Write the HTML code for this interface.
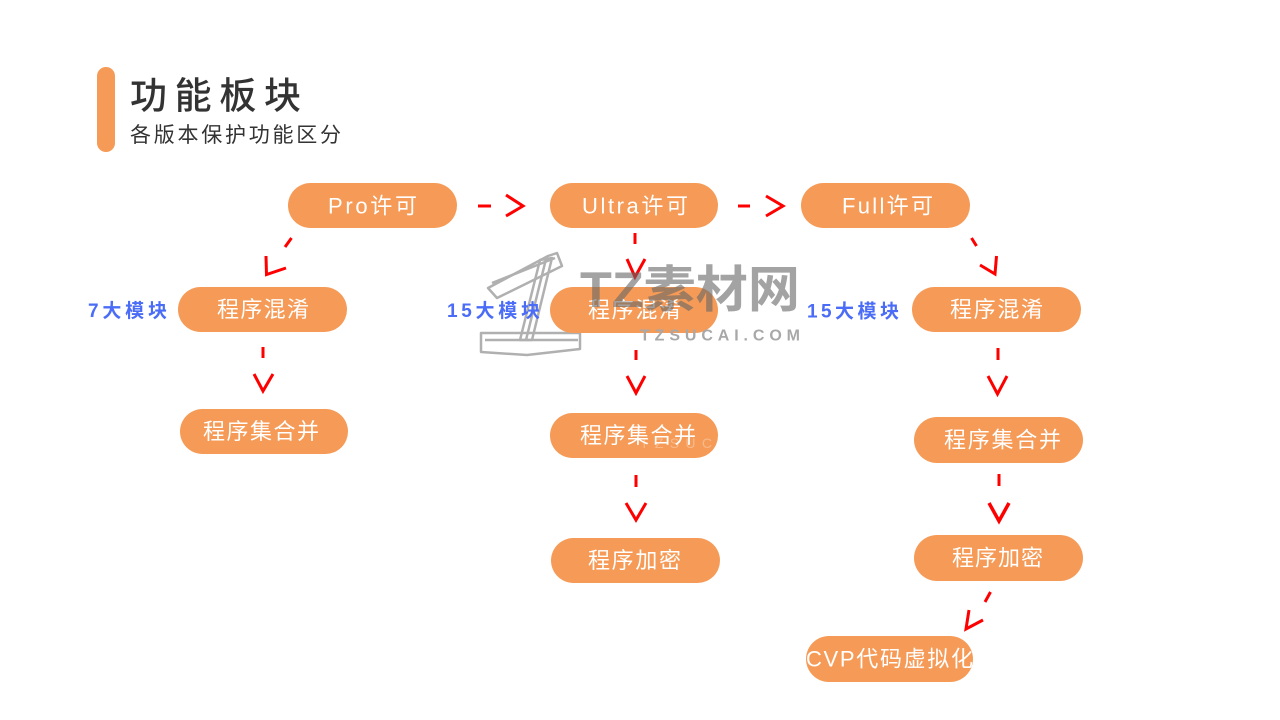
<!DOCTYPE html>
<html>
<head>
<meta charset="utf-8">
<style>
  html, body { margin: 0; padding: 0; background: #ffffff; }
  body { width: 1280px; height: 720px; overflow: hidden; }
  svg { display: block; }
  .t { font-family: "Liberation Sans", "Noto Sans CJK SC", sans-serif; }
</style>
</head>
<body>
<svg width="1280" height="720" viewBox="0 0 1280 720" xmlns="http://www.w3.org/2000/svg">
  <rect width="1280" height="720" fill="#ffffff"/>

  <!-- Header -->
  <rect x="97" y="67" width="18" height="85" rx="9" fill="#F59B57"/>
  <text class="t" x="130" y="96" dominant-baseline="central" font-size="37" font-weight="500" fill="#333333" textLength="171" lengthAdjust="spacing">功能板块</text>
  <text class="t" x="130" y="135.5" dominant-baseline="central" font-size="21" fill="#333333" textLength="211" lengthAdjust="spacing">各版本保护功能区分</text>

  <!-- Watermark icon (behind) -->
  <g fill="none" stroke="#b0b0b0" stroke-width="2.5" stroke-linejoin="round">
    <polygon points="488,288 548,256 557,253 562,266 497,298"/>
    <line x1="492" y1="283" x2="555" y2="258"/>
    <polygon points="540,260 552,258 532,340 520,340"/>
    <line x1="546" y1="259" x2="526" y2="340"/>
    <polygon points="481,333 580,333 580,349 527,355 481,352"/>
    <line x1="485" y1="340" x2="578" y2="340"/>
  </g>

  <!-- Pills -->
  <g fill="#F59B57">
    <rect x="288" y="183" width="169" height="45" rx="22.5"/>
    <rect x="550" y="183" width="168" height="45" rx="22.5"/>
    <rect x="801" y="183" width="169" height="45" rx="22.5"/>
    <rect x="178" y="287" width="169" height="45" rx="22.5"/>
    <rect x="550" y="287" width="168" height="46" rx="23"/>
    <rect x="912" y="287" width="169" height="45" rx="22.5"/>
    <rect x="180" y="409" width="168" height="45" rx="22.5"/>
    <rect x="550" y="413" width="168" height="45" rx="22.5"/>
    <rect x="914" y="417" width="169" height="46" rx="23"/>
    <rect x="551" y="538" width="169" height="45" rx="22.5"/>
    <rect x="914" y="535" width="169" height="46" rx="23"/>
    <rect x="806" y="636" width="167" height="46" rx="23"/>
  </g>

  <!-- Pill labels -->
  <g class="t" fill="#ffffff" font-size="22" dominant-baseline="central">
    <text x="328" y="206" textLength="89" lengthAdjust="spacing">Pro许可</text>
    <text x="582" y="206" textLength="106" lengthAdjust="spacing">Ultra许可</text>
    <text x="842" y="206" textLength="91" lengthAdjust="spacing">Full许可</text>
    <text x="217" y="309.5" textLength="92" lengthAdjust="spacing">程序混淆</text>
    <text x="588" y="310" textLength="93" lengthAdjust="spacing">程序混淆</text>
    <text x="950" y="309.5" textLength="93" lengthAdjust="spacing">程序混淆</text>
    <text x="203" y="431.5" textLength="116" lengthAdjust="spacing">程序集合并</text>
    <text x="580" y="435.5" textLength="116" lengthAdjust="spacing">程序集合并</text>
    <text x="944" y="440" textLength="117" lengthAdjust="spacing">程序集合并</text>
    <text x="588" y="560.5" textLength="93" lengthAdjust="spacing">程序加密</text>
    <text x="952" y="558" textLength="91" lengthAdjust="spacing">程序加密</text>
    <text x="806" y="659" textLength="167" lengthAdjust="spacing">CVP代码虚拟化</text>
  </g>

  <!-- Blue labels -->
  <g class="t" fill="#4A6CF7" font-size="19" font-weight="bold" dominant-baseline="central">
    <text x="88" y="311.5" textLength="79" lengthAdjust="spacing">7大模块</text>
    <text x="447" y="311.5" textLength="93" lengthAdjust="spacing">15大模块</text>
    <text x="807" y="312" textLength="92" lengthAdjust="spacing">15大模块</text>
  </g>

  <!-- Arrows -->
  <g fill="none" stroke="#FF0000" stroke-width="3" stroke-linecap="butt" stroke-linejoin="miter">
    <line x1="478" y1="206" x2="491" y2="206"/>
    <polyline points="506,195 523,206 506,216"/>
    <line x1="738" y1="206" x2="750" y2="206"/>
    <polyline points="766,196 783,206 766,216"/>

    <line x1="635" y1="233" x2="635" y2="244"/>
    <polyline points="627,259 635,277 645,259"/>
    <line x1="636" y1="350" x2="636" y2="360"/>
    <polyline points="627,376 636,393 645,376"/>
    <line x1="636" y1="475" x2="636" y2="487"/>
    <polyline points="626,503 636,520 646,503"/>

    <line x1="263" y1="347" x2="263" y2="358"/>
    <polyline points="254,374 263,391 273,374"/>

    <line x1="998" y1="348" x2="998" y2="360"/>
    <polyline points="988,376 997.5,394 1007,376"/>
    <line x1="999" y1="474" x2="999" y2="486"/>
    <polyline points="989,503 999,521 1009,503" stroke-width="3.5"/>

    <line x1="291.5" y1="238" x2="285" y2="247"/>
    <polyline points="266,256 266.5,274.5 286,268"/>
    <line x1="971.5" y1="238" x2="976.5" y2="246"/>
    <polyline points="996.5,256 995,274 980,265"/>
    <line x1="990.5" y1="592" x2="985" y2="602"/>
    <polyline points="969,610 966,629 983,620"/>
  </g>

  <!-- Watermark text (on top) -->
  <text class="t" x="580" y="290" dominant-baseline="central" font-size="50" font-weight="bold" fill="#666666" fill-opacity="0.6" textLength="220" lengthAdjust="spacingAndGlyphs">TZ素材网</text>
  <text class="t" x="640" y="336" dominant-baseline="central" font-size="16" font-weight="bold" fill="#a8a8a8" textLength="160" lengthAdjust="spacing">TZSUCAI.COM</text>
  <text class="t" x="640" y="443" dominant-baseline="central" font-size="14" fill="#ffffff" fill-opacity="0.3" textLength="72" lengthAdjust="spacing">TZSUC</text>
</svg>
</body>
</html>
